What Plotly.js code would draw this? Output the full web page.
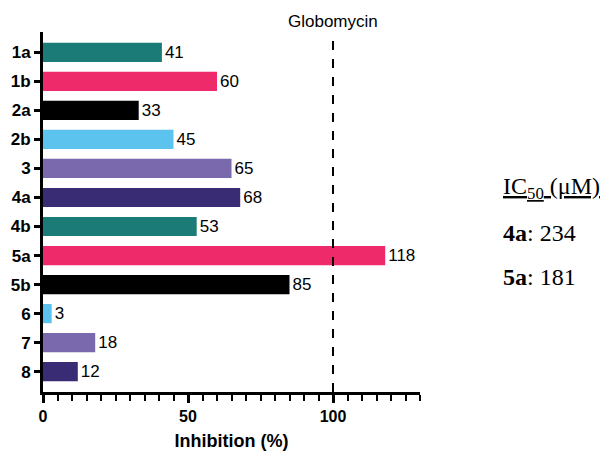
<!DOCTYPE html>
<html>
<head>
<meta charset="utf-8">
<script src="https://cdn.plot.ly/plotly-3.0.1.min.js"></script>
<style>html,body{margin:0;padding:0;background:#fff;}#chart{width:606px;height:451px;}</style>
</head>
<body>
<div id="chart"></div>
<script>
const compounds = ["1a","1b","2a","2b","3","4a","4b","5a","5b","6","7","8"];
const inhibition = [41, 60, 33, 45, 65, 68, 53, 118, 85, 3, 18, 12];
const barColors = ["#1b7b76","#ee2a6a","#000000","#5bc3ee","#7a69ad","#392b74","#1b7b76","#ee2a6a","#000000","#5bc3ee","#7a69ad","#392b74"];
const referenceName = "Globomycin";
const referenceValue = 100;
const ic50Compounds = ["4a","5a"];
const ic50Values = [234, 181];

const trace = {
  type: "bar",
  orientation: "h",
  x: inhibition,
  y: compounds,
  marker: {color: barColors, line: {width: 0}},
  width: 0.66,
  text: inhibition.map(String),
  textposition: "outside",
  textfont: {family: "Liberation Sans, Arial", size: 17, color: "#000"},
  cliponaxis: false,
  hoverinfo: "none"
};

const serif = "Liberation Serif, Times New Roman";
const annotations = [
  {xref: "x", yref: "paper", x: referenceValue, y: 1.0, yanchor: "bottom", xanchor: "center",
   text: referenceName, showarrow: false, yshift: -1,
   font: {family: "Liberation Sans, Arial", size: 17, color: "#000"}},
  {xref: "paper", yref: "paper", x: 1.215, y: 0.567, xanchor: "left", yanchor: "middle",
   text: "<u>IC<sub>50</sub> (μM)</u>", showarrow: false,
   font: {family: serif, size: 24, color: "#000"}}
];
ic50Compounds.forEach((c, i) => {
  annotations.push({xref: "paper", yref: "paper", x: 1.215, y: 0.442 - i * 0.123, xanchor: "left", yanchor: "middle",
    text: "<b>" + c + "</b>: " + ic50Values[i], showarrow: false,
    font: {family: serif, size: 24, color: "#000"}});
});

const layout = {
  width: 606, height: 451,
  margin: {l: 43, r: 186, t: 32, b: 59},
  paper_bgcolor: "#fff", plot_bgcolor: "#fff",
  showlegend: false,
  xaxis: {
    range: [0, 130], dtick: 50, tick0: 0,
    showgrid: false, zeroline: false,
    showline: true, linecolor: "#000", linewidth: 3,
    ticks: "outside", ticklen: 8, tickwidth: 3, tickcolor: "#000",
    minor: {dtick: 5, tick0: 0, ticks: "outside", ticklen: 6, tickwidth: 2, tickcolor: "#000", showgrid: false},
    tickfont: {family: "Liberation Sans, Arial", size: 16, color: "#000", weight: "bold"},
    title: {text: "Inhibition (%)", standoff: 17, font: {family: "Liberation Sans, Arial", size: 18, color: "#000", weight: "bold"}},
    fixedrange: true
  },
  yaxis: {
    type: "category",
    categoryorder: "array", categoryarray: compounds,
    range: [11.7, -0.7],
    showgrid: false, zeroline: false,
    showline: true, linecolor: "#000", linewidth: 3,
    ticks: "outside", ticklen: 6, tickwidth: 3, tickcolor: "#000",
    tickfont: {family: "Liberation Sans, Arial", size: 17, color: "#000", weight: "bold"},
    fixedrange: true
  },
  shapes: [{
    type: "line", xref: "x", yref: "paper",
    x0: referenceValue, x1: referenceValue, y0: 0, y1: 0.985,
    line: {color: "#000", width: 2, dash: "dash"}
  }],
  annotations: annotations
};

Plotly.newPlot("chart", [trace], layout, {displayModeBar: false, staticPlot: true});
</script>
</body>
</html>
